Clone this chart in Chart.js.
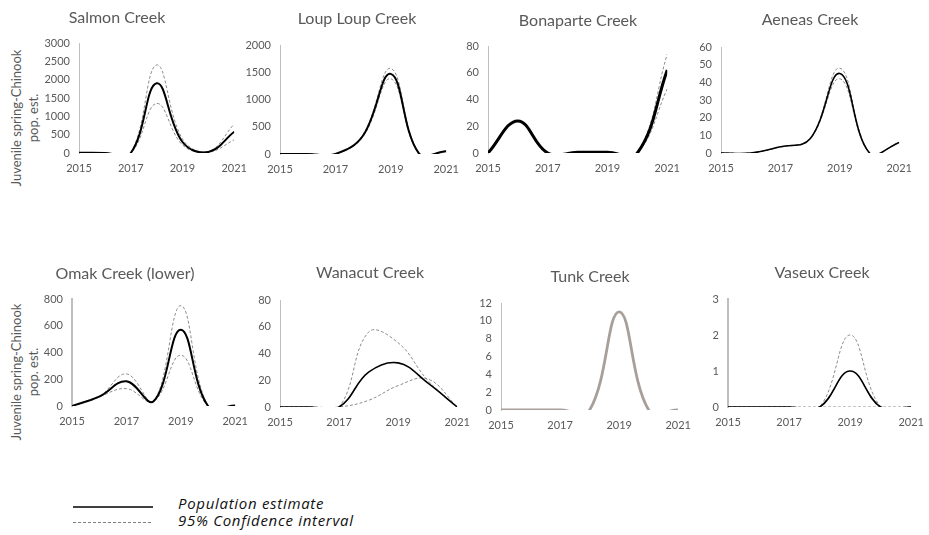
<!DOCTYPE html>
<html>
<head>
<meta charset="utf-8">
<script src="https://cdn.jsdelivr.net/npm/chart.js@4.4.1/dist/chart.umd.min.js"></script>
<style>
  body { margin: 0; background: #fff; width: 929px; height: 535px; overflow: hidden; position: relative; font-family: Lato, sans-serif; }
  canvas { position: absolute; }
  .ytitle { position: absolute; white-space: nowrap; color: #595959; font-size: 13px; transform: translate(-50%, -50%) rotate(-90deg); }
  .leg { position: absolute; font-family: 'Open Sans', sans-serif; font-style: italic; font-size: 15px; letter-spacing: 0.7px; color: #111; white-space: nowrap; }
</style>
</head>
<body>
<div class="ytitle" style="left:16px;top:118px">Juvenile spring-Chinook</div>
<div class="ytitle" style="left:33px;top:118px">pop. est.</div>
<div class="ytitle" style="left:16px;top:372px">Juvenile spring-Chinook</div>
<div class="ytitle" style="left:33px;top:372px">pop. est.</div>

<svg style="position:absolute;left:60px;top:495px" width="110" height="40">
  <line x1="13" y1="12" x2="93" y2="12" stroke="#000" stroke-width="1.5"/>
  <line x1="13" y1="27.5" x2="93" y2="27.5" stroke="#808080" stroke-width="1" stroke-dasharray="3,2"/>
</svg>
<div class="leg" style="left:178px;top:493px">Population estimate</div>
<div class="leg" style="left:178px;top:510px">95% Confidence interval</div>

<script>
// yearly estimates
const years = [2015, 2016, 2017, 2018, 2019, 2020, 2021]

const salmonEst = [10, 0, 0, 1900, 300, 30, 580]
const salmonHi = [10, 0, 0, 2400, 380, 40, 790]
const salmonLo = [10, 0, 0, 1350, 220, 20, 360]

const loupEst = [0, 0, 0, 340, 1470, 20, 50]
const loupHi = [0, 0, 0, 360, 1570, 25, 55]
const loupLo = [0, 0, 0, 320, 1380, 15, 45]

const bonaparteEst = [0, 24, 0, 0.5, 0.5, 0, 62]
const bonaparteHi = [0, 24, 0, 1, 1, 0, 74]
const bonaparteLo = [0, 24, 0, 0, 0, 0, 48]

const aeneasEst = [0, 0, 3.5, 8, 45, 0, 6]
const aeneasHi = [0, 0, 3.5, 8, 48, 0, 6]
const aeneasLo = [0, 0, 3.5, 8, 42, 0, 6]

const omakEst = [0, 70, 185, 35, 570, 0, 3]
const omakHi = [0, 70, 240, 35, 750, 0, 3]
const omakLo = [0, 70, 130, 35, 380, 0, 3]

const wanacutEst = [0, 0, 0, 26, 33, 18, 0]
const wanacutHi = [0, 0, 0, 56, 48, 20, 0]
const wanacutLo = [0, 0, 0, 5, 16, 21, 0]

const tunkEst = [0, 0, 0, 0, 11, 0, 0]
const tunkHi = [0, 0, 0, 0, 11, 0, 0]
const tunkLo = [0, 0, 0, 0, 11, 0, 0]

const vaseuxEst = [0, 0, 0, 0, 1, 0, 0]
const vaseuxHi = [0, 0, 0, 0, 2, 0, 0]
const vaseuxLo = [0, 0, 0, 0, 0, 0, 0]

// box = plot area [left, right, top, bottom], tc = title centre
const panels = [
  { title: 'Salmon Creek', est: salmonEst, hi: salmonHi, lo: salmonLo, yMax: 3000, yStep: 500, box: [79, 240, 43, 153], tc: [117, 17] },
  { title: 'Loup Loup Creek', est: loupEst, hi: loupHi, lo: loupLo, yMax: 2000, yStep: 500, box: [280, 452, 45, 154], tc: [357, 18.8] },
  { title: 'Bonaparte Creek', est: bonaparteEst, hi: bonaparteHi, lo: bonaparteLo, yMax: 80, yStep: 20, box: [488, 673, 46, 153], tc: [578, 20], width: 3 },
  { title: 'Aeneas Creek', est: aeneasEst, hi: aeneasHi, lo: aeneasLo, yMax: 60, yStep: 10, box: [721, 905, 47, 153], tc: [810, 19.5], width: 1.6 },
  { title: 'Omak Creek (lower)', est: omakEst, hi: omakHi, lo: omakLo, yMax: 800, yStep: 200, box: [72, 241, 299, 406], tc: [125, 273.5], axisW: 2 },
  { title: 'Wanacut Creek', est: wanacutEst, hi: wanacutHi, lo: wanacutLo, yMax: 80, yStep: 20, box: [280, 463, 300, 407], tc: [370, 272.5], width: 1.6 },
  { title: 'Tunk Creek', est: tunkEst, hi: tunkHi, lo: tunkLo, yMax: 12, yStep: 2, box: [501, 684, 303, 410], tc: [590, 276], color: '#a99f9a', ciColor: '#a99f9a', width: 2.8 },
  { title: 'Vaseux Creek', est: vaseuxEst, hi: vaseuxHi, lo: vaseuxLo, yMax: 3, yStep: 1, box: [728, 917, 299, 407], tc: [822, 272.5], width: 1.6, axisW: 2 }
]

// panel title drawn at a fixed spot (Excel centres it on the whole chart object, not the plot)
const panelTitle = {
  id: 'panelTitle',
  afterDraw (chart, args, opts) {
    const ctx = chart.ctx
    ctx.save()
    ctx.font = '16px Lato'
    ctx.fillStyle = '#595959'
    ctx.textAlign = 'center'
    ctx.textBaseline = 'middle'
    ctx.fillText(opts.text, opts.x, opts.y)
    ctx.restore()
  }
}

function pts (vals) {
  return vals.map((v, i) => ({ x: years[i], y: v }))
}

function drawPanel (p) {
  const [l, r, t, b] = p.box
  const [tcx, tcy] = p.tc
  const L = l - 45
  const padRight = 16
  const W = r - L + padRight
  const T = t - 40
  const xH = 26
  const H = b - T + xH

  const c = document.createElement('canvas')
  c.width = W
  c.height = H
  c.style.left = L + 'px'
  c.style.top = T + 'px'
  c.style.width = W + 'px'
  c.style.height = H + 'px'
  document.body.appendChild(c)

  const tickFont = { family: 'Lato', size: 11 }
  const ci = p.ciColor || '#8c8c8c'

  new Chart(c, {
    type: 'line',
    data: {
      datasets: [
        { label: 'Population estimate', data: pts(p.est), borderColor: p.color || '#000', borderWidth: p.width || 2, pointRadius: 0, tension: 0.4 },
        { label: '95% CI upper', data: pts(p.hi), borderColor: ci, borderWidth: 1, borderDash: [3, 2], pointRadius: 0, tension: 0.4 },
        { label: '95% CI lower', data: pts(p.lo), borderColor: ci, borderWidth: 1, borderDash: [3, 2], pointRadius: 0, tension: 0.4 }
      ]
    },
    plugins: [panelTitle],
    options: {
      responsive: false,
      animation: false,
      devicePixelRatio: 1,
      layout: { padding: { left: 0, right: padRight, top: t - T, bottom: 0 } },
      elements: { line: { capBezierPoints: false } },
      plugins: {
        legend: { display: false },
        tooltip: { enabled: false },
        panelTitle: { text: p.title, x: tcx - L, y: tcy - T + 0.5 }
      },
      scales: {
        x: {
          type: 'linear',
          min: 2015,
          max: 2021,
          grid: { display: false, drawTicks: false },
          border: { display: false },
          ticks: { stepSize: 2, padding: 9, color: '#595959', font: tickFont, maxRotation: 0, callback: v => String(v) },
          afterFit: s => { s.height = xH }
        },
        y: {
          min: 0,
          max: p.yMax,
          grid: { display: false, drawTicks: false },
          border: { display: true, color: '#bfbfbf', width: p.axisW || 1 },
          ticks: { stepSize: p.yStep, padding: 9, color: '#595959', font: tickFont, callback: v => String(v) },
          afterFit: s => { s.width = l - L }
        }
      }
    }
  })
}

panels.forEach(drawPanel)
</script>
</body>
</html>
